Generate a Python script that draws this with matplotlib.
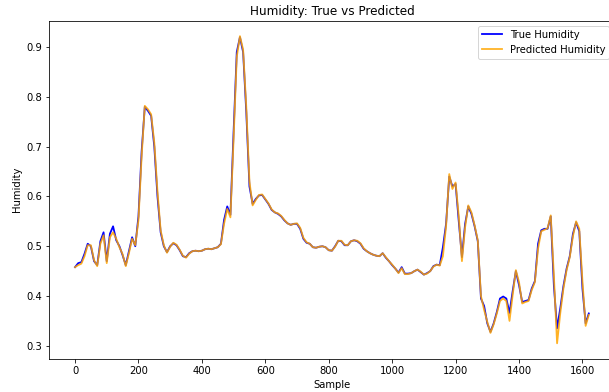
import numpy as np
import matplotlib
matplotlib.use("Agg")
import matplotlib.pyplot as plt

# samples every 10 steps
step = 10
true_humidity = [
    0.458, 0.466, 0.468, 0.485, 0.505, 0.500, 0.470, 0.462, 0.510, 0.528,
    0.470, 0.525, 0.540, 0.512, 0.500, 0.482, 0.462, 0.490, 0.518, 0.500,
    0.560, 0.690, 0.780, 0.772, 0.762, 0.700, 0.600, 0.528, 0.500, 0.488,
    0.500, 0.506, 0.502, 0.492, 0.480, 0.478, 0.486, 0.490, 0.491, 0.490,
    0.491, 0.494, 0.495, 0.494, 0.496, 0.498, 0.505, 0.553, 0.580, 0.563,
    0.730, 0.890, 0.920, 0.890, 0.770, 0.620, 0.585, 0.595, 0.602, 0.603,
    0.594, 0.585, 0.573, 0.568, 0.565, 0.560, 0.552, 0.546, 0.543, 0.545,
    0.545, 0.535, 0.515, 0.507, 0.505, 0.498, 0.497, 0.499, 0.500, 0.498,
    0.492, 0.491, 0.500, 0.511, 0.510, 0.502, 0.502, 0.510, 0.512, 0.510,
    0.505, 0.495, 0.490, 0.486, 0.483, 0.481, 0.480, 0.486, 0.477, 0.470,
    0.462, 0.455, 0.447, 0.458, 0.445, 0.445, 0.446, 0.450, 0.453, 0.448,
    0.443, 0.446, 0.450, 0.460, 0.463, 0.462, 0.498, 0.545, 0.640, 0.620,
    0.625, 0.550, 0.478, 0.545, 0.580, 0.565, 0.540, 0.510, 0.395, 0.380,
    0.345, 0.328, 0.345, 0.368, 0.395, 0.399, 0.395, 0.366, 0.410, 0.450,
    0.422, 0.388, 0.390, 0.392, 0.415, 0.430, 0.505, 0.532, 0.535, 0.535,
    0.560, 0.420, 0.335, 0.375, 0.420, 0.455, 0.480, 0.525, 0.548, 0.530,
    0.415, 0.345, 0.365,
]
predicted_humidity = [
    0.458, 0.462, 0.465, 0.480, 0.502, 0.502, 0.472, 0.460, 0.505, 0.522,
    0.466, 0.518, 0.528, 0.515, 0.498, 0.484, 0.460, 0.486, 0.515, 0.502,
    0.552, 0.680, 0.782, 0.775, 0.765, 0.708, 0.610, 0.532, 0.502, 0.487,
    0.499, 0.507, 0.503, 0.493, 0.481, 0.477, 0.485, 0.490, 0.491, 0.490,
    0.491, 0.494, 0.495, 0.494, 0.496, 0.498, 0.504, 0.545, 0.575, 0.558,
    0.715, 0.880, 0.922, 0.895, 0.780, 0.630, 0.582, 0.593, 0.603, 0.604,
    0.595, 0.586, 0.574, 0.568, 0.566, 0.561, 0.553, 0.546, 0.543, 0.545,
    0.546, 0.537, 0.517, 0.508, 0.505, 0.498, 0.497, 0.499, 0.500, 0.498,
    0.492, 0.491, 0.499, 0.511, 0.511, 0.503, 0.502, 0.510, 0.512, 0.511,
    0.506, 0.496, 0.490, 0.486, 0.483, 0.481, 0.480, 0.486, 0.478, 0.470,
    0.463, 0.455, 0.446, 0.456, 0.444, 0.444, 0.446, 0.450, 0.453, 0.449,
    0.443, 0.445, 0.450, 0.459, 0.463, 0.461, 0.480, 0.540, 0.645, 0.615,
    0.628, 0.560, 0.470, 0.538, 0.582, 0.568, 0.542, 0.512, 0.400, 0.372,
    0.348, 0.326, 0.343, 0.365, 0.390, 0.395, 0.390, 0.350, 0.402, 0.452,
    0.428, 0.385, 0.388, 0.390, 0.412, 0.428, 0.495, 0.530, 0.533, 0.536,
    0.562, 0.440, 0.305, 0.365, 0.415, 0.452, 0.478, 0.520, 0.550, 0.535,
    0.430, 0.340, 0.362,
]
samples = np.arange(len(true_humidity)) * step

fig = plt.figure(figsize=(609 / 72, 392 / 72), dpi=72)
ax = fig.add_axes([0.081, 0.085, 0.928, 0.862])

ax.plot(samples, true_humidity, color="blue", lw=1.8, label="True Humidity")
ax.plot(samples, predicted_humidity, color="orange", lw=1.8, alpha=0.85,
        label="Predicted Humidity")

ax.set_title("Humidity: True vs Predicted")
ax.set_xlabel("Sample")
ax.set_ylabel("Humidity")
ax.legend(loc="upper right")

fig.savefig("out.png", dpi=72)
